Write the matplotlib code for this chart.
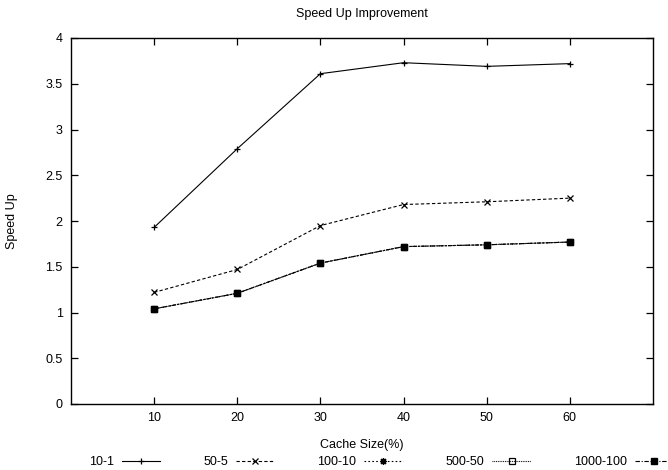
import matplotlib as mpl
mpl.use("Agg")
import matplotlib.pyplot as plt
from matplotlib.ticker import FuncFormatter

plt.rcParams["font.family"] = ["Liberation Sans", "DejaVu Sans"]
plt.rcParams["font.size"] = 9

# data
cache_size = [10, 20, 30, 40, 50, 60]
s_10_1 = [1.93, 2.79, 3.61, 3.73, 3.69, 3.72]
s_50_5 = [1.22, 1.47, 1.95, 2.18, 2.21, 2.25]
s_100_10 = [1.04, 1.21, 1.54, 1.72, 1.74, 1.77]
s_500_50 = [1.04, 1.21, 1.54, 1.72, 1.74, 1.77]
s_1000_100 = [1.04, 1.21, 1.54, 1.72, 1.74, 1.77]
y_ticks = [0, 0.5, 1, 1.5, 2, 2.5, 3, 3.5, 4]

fig = plt.figure(figsize=(6.68, 4.70), dpi=100)
ax = fig.add_axes([71 / 668, 66 / 470, 582 / 668, 366 / 470])

lw = 0.8
ax.plot(cache_size, s_10_1, color="black", lw=lw, ls="-", marker="+",
        ms=5, mew=0.9, label="10-1")
ax.plot(cache_size, s_50_5, color="black", lw=lw, ls=(0, (3, 2)), marker="x",
        ms=4.5, mew=0.9, label="50-5")
ax.plot(cache_size, s_100_10, color="black", lw=lw, ls=(0, (1.5, 2)),
        marker=(8, 2, 0), ms=5, mew=0.9, label="100-10")
ax.plot(cache_size, s_500_50, color="black", lw=lw, ls=(0, (0.8, 0.8)),
        marker="s", ms=4.5, mfc="none", mew=0.9, label="500-50")
ax.plot(cache_size, s_1000_100, color="black", lw=lw, ls=(0, (4, 1.5, 1, 1.5)),
        marker="s", ms=5, mfc="black", label="1000-100")

ax.set_xlim(0, 70)
ax.set_ylim(0, 4)
ax.set_xticks(cache_size)
ax.set_yticks(y_ticks)
ax.yaxis.set_major_formatter(FuncFormatter(lambda v, p: "%g" % v))
ax.tick_params(direction="in", top=True, right=True, length=5, width=0.9,
               pad=6, labelsize=9)
for sp in ax.spines.values():
    sp.set_linewidth(1.0)

ax.text(0.5, 1.066, "Speed Up Improvement", transform=ax.transAxes,
        ha="center", va="center", fontsize=9)
ax.set_xlabel("Cache Size(%)", fontsize=9)
ax.xaxis.set_label_coords(0.5, -0.095)
ax.set_ylabel("Speed Up", fontsize=9)
ax.yaxis.set_label_coords(-0.091, 0.5)

fig.legend(loc="center left", bbox_to_anchor=(89 / 668, 8 / 470), ncol=5,
           frameon=False, markerfirst=False, handlelength=3.1,
           handletextpad=0.6, columnspacing=3.45, borderaxespad=0,
           borderpad=0, fontsize=9, numpoints=1)

plt.savefig("out.png", dpi=100)
plt.close("all")
